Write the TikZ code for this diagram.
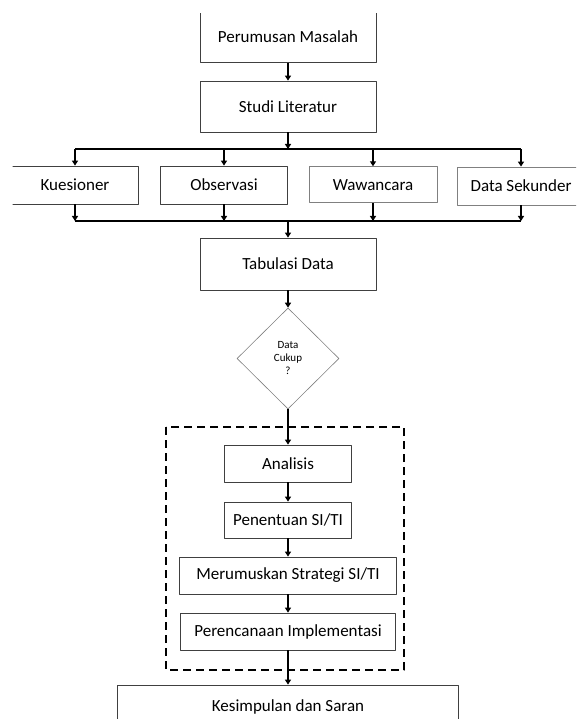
\documentclass[tikz,border=0pt]{standalone}
\usepackage{fontspec}
\setmainfont{Carlito}
\usetikzlibrary{arrows.meta,shapes.geometric}
\tikzset{
  every picture/.style={line join=round, >={Triangle[length=5pt,width=6pt]}},
  kotak/.style={draw=black!75, line width=0.8pt, rectangle, inner sep=0pt, font=\fontsize{17}{20}\selectfont},
  kotakabu/.style={kotak, draw=black!50},
  keputusan/.style={draw=black!50, line width=0.6pt, diamond, inner sep=0pt, align=center, font=\fontsize{11}{13}\selectfont},
  cabang/.style={line width=1.3pt},
  panah/.style={->, line width=1.6pt},
  garisputus/.style={line width=2.4pt, dash pattern=on 8pt off 5pt},
}

\begin{document}
\begin{tikzpicture}[x=1pt,y=-1pt]
\useasboundingbox (0,0) rectangle (576,719);
\clip (12.6,13.3) rectangle (576,719);
\node[kotak, minimum width=176, minimum height=51] (perumusan) at (288,36.7) {Perumusan Masalah};
\node[kotak, minimum width=176, minimum height=51] (studi) at (288,106.5) {Studi Literatur};
\node[kotak, minimum width=127, minimum height=38] (kues) at (75,185) {Kuesioner};
\node[kotak, minimum width=127, minimum height=38] (obs) at (224,185) {Observasi};
\node[kotakabu, minimum width=128, minimum height=36] (waw) at (373,184.7) {Wawancara};
\node[kotakabu, minimum width=127, minimum height=38] (data) at (521,186) {Data Sekunder};
\node[kotak, minimum width=176, minimum height=52] (tabulasi) at (288,264) {Tabulasi Data};
\node[keputusan, minimum width=102, minimum height=101] (cukup) at (288,358.5) {Data\\Cukup\\?};
\draw[garisputus] (166,427) rectangle (404,670);
\node[kotak, minimum width=127, minimum height=37] (analisis) at (288,463.5) {Analisis};
\node[kotak, minimum width=127, minimum height=36] (penentuan) at (288,520) {Penentuan SI/TI};
\node[kotak, minimum width=217, minimum height=37] (strategi) at (288,575.5) {Merumuskan Strategi SI/TI};
\node[kotak, minimum width=215, minimum height=37] (rencana) at (288,631.5) {Perencanaan Implementasi};
\node[kotak, minimum width=341, minimum height=44] (simpulan) at (288,707) {Kesimpulan dan Saran};
\coordinate (atas) at (288,149);
\coordinate (bawah) at (288,221);
\draw[panah] (perumusan.south) -- (studi.north);
\draw[panah] (studi.south) -- (atas);
\draw[cabang] (kues.north |- atas) -- (data.north |- atas);
\foreach \n in {kues,obs,waw,data}
  \draw[panah] (\n.north |- atas) -- (\n.north);
\foreach \n in {kues,obs,waw,data}
  \draw[panah] (\n.south) -- (\n.south |- bawah);
\draw[cabang] (kues.south |- bawah) -- (data.south |- bawah);
\draw[panah] (bawah) -- (tabulasi.north);
\draw[panah] (tabulasi.south) -- (cukup.north);
\draw[panah] (cukup.south) -- (analisis.north);
\draw[panah] (analisis.south) -- (penentuan.north);
\draw[panah] (penentuan.south) -- (strategi.north);
\draw[panah] (strategi.south) -- (rencana.north);
\draw[panah] (rencana.south) -- (simpulan.north);
\end{tikzpicture}
\end{document}
